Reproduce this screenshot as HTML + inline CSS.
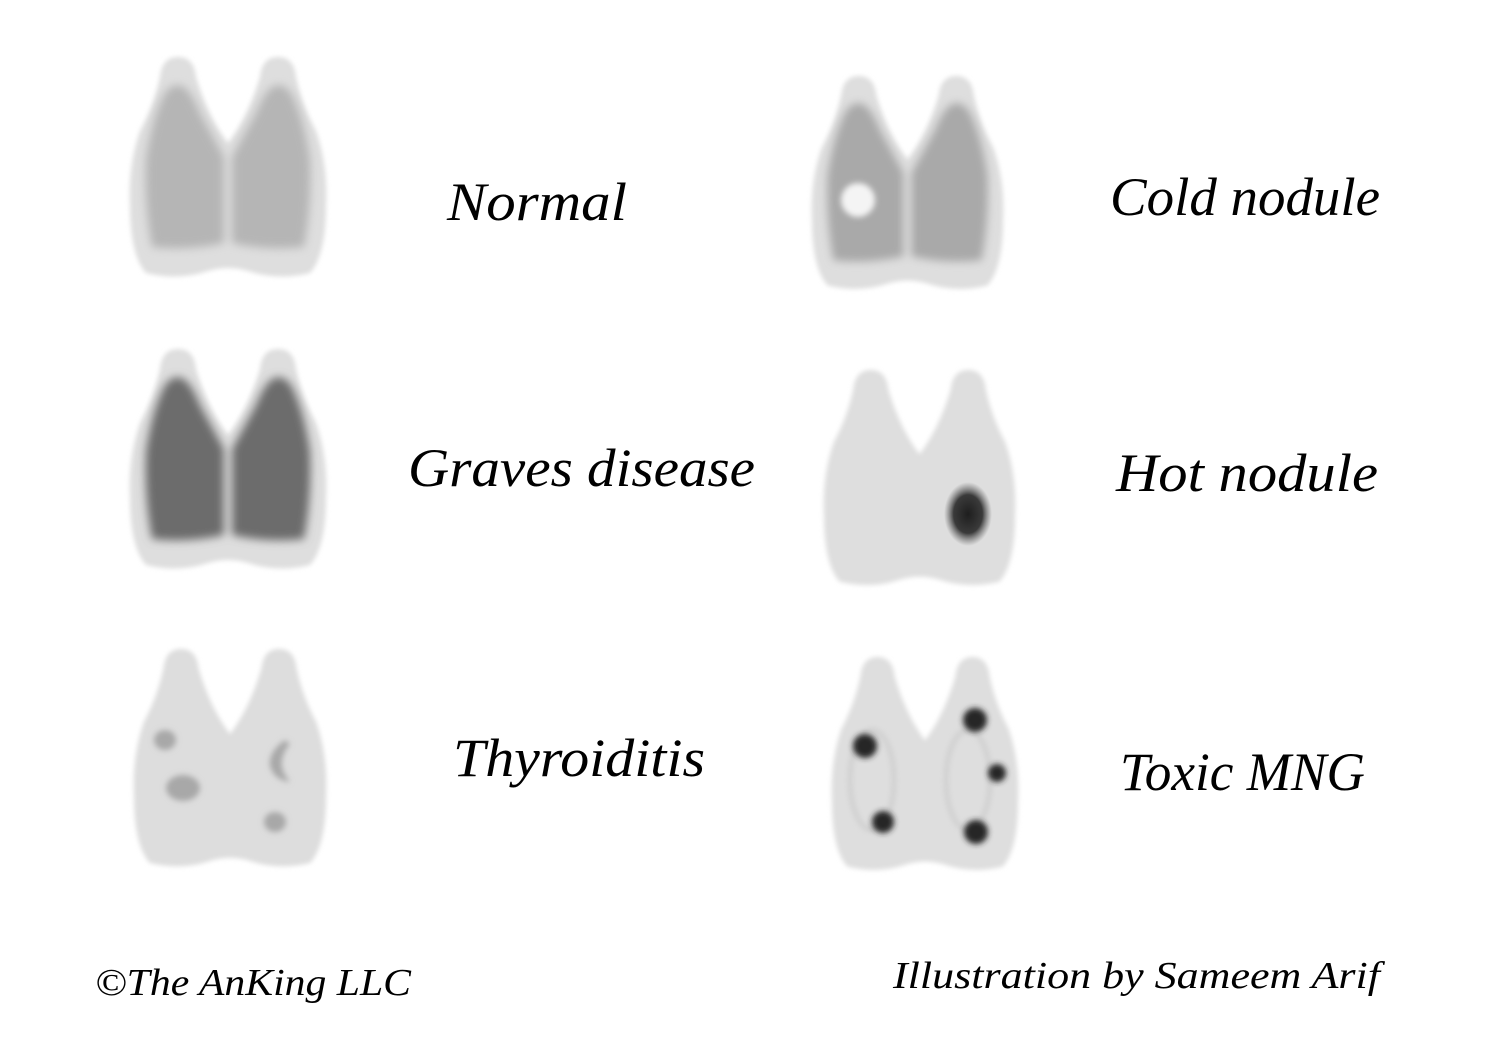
<!DOCTYPE html>
<html><head><meta charset="utf-8">
<style>
html,body{margin:0;padding:0;background:#fff;}
svg{display:block;}
text{font-family:"Liberation Serif",serif;font-style:italic;fill:#000;}
</style></head>
<body>
<svg width="1497" height="1062" viewBox="0 0 1497 1062">
<defs>
  <filter id="b1" x="-20%" y="-20%" width="140%" height="140%"><feGaussianBlur stdDeviation="2.5"/></filter>
  <filter id="b2" x="-30%" y="-30%" width="160%" height="160%"><feGaussianBlur stdDeviation="4.5"/></filter>
  <filter id="b3" x="-50%" y="-50%" width="200%" height="200%"><feGaussianBlur stdDeviation="3"/></filter>
  <path id="outline" d="M32 22 Q34 2 50 2 Q66 2 68 22 Q80 62 100 88 Q120 62 132 22 Q134 2 150 2 Q166 2 168 22 Q174 50 188 76 Q200 110 198 150 Q198 200 182 218 Q150 226 120 216 Q100 210 80 216 Q50 226 18 218 Q2 200 2 150 Q0 110 12 76 Q26 50 32 22 Z"/>
  <path id="lobes" d="M36 40 Q44 26 56 32 Q64 38 72 58 L96 102 L96 188 Q60 196 24 192 Q16 150 18 104 Q24 64 36 40 Z M164 40 Q156 26 144 32 Q136 38 128 58 L104 102 L104 188 Q140 196 176 192 Q184 150 182 104 Q176 64 164 40 Z"/>
  <radialGradient id="hot" cx="50%" cy="50%" r="50%"><stop offset="0" stop-color="#1e1e1e"/><stop offset="0.6" stop-color="#3a3a3a"/><stop offset="1" stop-color="#666" stop-opacity="0"/></radialGradient>
</defs>

<g transform="translate(128,55)">
  <use href="#outline" fill="#dedede" filter="url(#b1)"/>
  <use href="#lobes" fill="#b5b5b5" filter="url(#b2)"/>
</g>
<g transform="translate(128,347)">
  <use href="#outline" fill="#dedede" filter="url(#b1)"/>
  <use href="#lobes" fill="#6c6c6c" filter="url(#b2)"/>
</g>
<g transform="translate(132,647) scale(0.98,0.99)">
  <use href="#outline" fill="#dddddd" filter="url(#b1)"/>
</g>
<g filter="url(#b3)" fill="#a8a8a8">
  <ellipse cx="165" cy="740" rx="11" ry="10"/>
  <ellipse cx="183" cy="788" rx="17" ry="13"/>
  <path d="M285 740 Q268 752 270 766 Q274 780 290 782 Q280 770 282 760 Q284 750 290 744 Z"/>
  <ellipse cx="275" cy="822" rx="11" ry="10"/>
</g>
<g transform="translate(810,74) scale(0.975,0.97)">
  <use href="#outline" fill="#dedede" filter="url(#b1)"/>
  <use href="#lobes" fill="#a9a9a9" filter="url(#b2)"/>
</g>
<circle cx="858" cy="200" r="17" fill="#f4f4f4" filter="url(#b3)"/>
<g transform="translate(822,368) scale(0.975,0.98)">
  <use href="#outline" fill="#dedede" filter="url(#b1)"/>
</g>
<ellipse cx="968" cy="514" rx="24" ry="32" fill="url(#hot)"/>
<g transform="translate(830,655) scale(0.95,0.97)">
  <use href="#outline" fill="#dedede" filter="url(#b1)"/>
</g>
<g fill="none" stroke="#bcbcbc" stroke-width="2" filter="url(#b3)">
  <ellipse cx="872" cy="780" rx="22" ry="50"/>
  <ellipse cx="968" cy="780" rx="22" ry="50"/>
</g>
<g fill="#262626" filter="url(#b3)">
  <circle cx="865" cy="746" r="12"/>
  <circle cx="975" cy="720" r="12"/>
  <circle cx="883" cy="822" r="11"/>
  <circle cx="997" cy="773" r="9"/>
  <circle cx="976" cy="832" r="12"/>
</g>

<text x="447" y="220" font-size="54" textLength="180" lengthAdjust="spacingAndGlyphs">Normal</text>
<text x="1110" y="215" font-size="54" textLength="270" lengthAdjust="spacingAndGlyphs">Cold nodule</text>
<text x="408" y="486" font-size="54" textLength="347" lengthAdjust="spacingAndGlyphs">Graves disease</text>
<text x="1116" y="491" font-size="54" textLength="262" lengthAdjust="spacingAndGlyphs">Hot nodule</text>
<text x="453" y="776" font-size="54" textLength="252" lengthAdjust="spacingAndGlyphs">Thyroiditis</text>
<text x="1120" y="790" font-size="54" textLength="245" lengthAdjust="spacingAndGlyphs">Toxic MNG</text>

<text x="95" y="995" font-size="38" textLength="316" lengthAdjust="spacingAndGlyphs">©The AnKing LLC</text>
<text x="893" y="988" font-size="38" textLength="487" lengthAdjust="spacingAndGlyphs">Illustration by Sameem Arif</text>
</svg>
</body></html>
